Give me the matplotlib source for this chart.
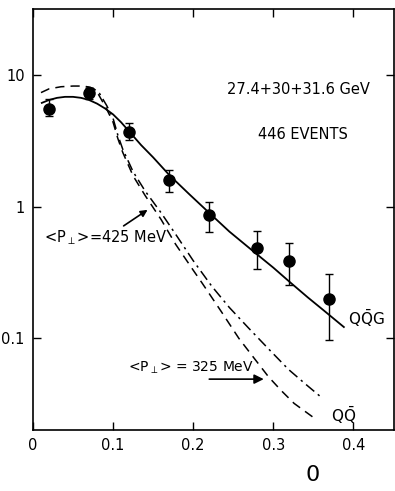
import numpy as np
import matplotlib
matplotlib.use("Agg")
import matplotlib.pyplot as plt

# Data points (filled circles with error bars)
pt_x = [0.02, 0.07, 0.12, 0.17, 0.22, 0.28, 0.32, 0.37]
pt_y = [5.6, 7.35, 3.7, 1.6, 0.87, 0.49, 0.39, 0.20]
pt_hi = [6.6, 8.0, 4.35, 1.9, 1.09, 0.66, 0.53, 0.31]
pt_lo = [4.9, 6.6, 3.2, 1.3, 0.65, 0.34, 0.255, 0.098]

# QQG curve (solid)
qqg_x = [0.011, 0.020, 0.030, 0.040, 0.050, 0.060, 0.070, 0.080, 0.090, 0.100,
         0.110, 0.120, 0.135, 0.150, 0.170, 0.195, 0.220, 0.245, 0.273, 0.300,
         0.320, 0.343, 0.363, 0.388]
qqg_y = [6.18, 6.50, 6.75, 6.87, 6.87, 6.75, 6.50, 6.10, 5.60, 5.05,
         4.40, 3.75, 2.95, 2.38, 1.75, 1.25, 0.90, 0.65, 0.47, 0.345,
         0.27, 0.205, 0.163, 0.122]

# QQbar, <P_perp> = 325 MeV (dashed)
d325_x = [0.010, 0.020, 0.035, 0.050, 0.063, 0.072, 0.081, 0.091, 0.100, 0.106,
          0.112, 0.125, 0.140, 0.160, 0.178, 0.200, 0.211, 0.235, 0.257, 0.275,
          0.294, 0.310, 0.326, 0.349]
d325_y = [7.4, 7.9, 8.2, 8.3, 8.3, 8.1, 7.3, 5.7, 4.4, 3.3,
          2.6, 1.72, 1.22, 0.80, 0.52, 0.33, 0.264, 0.16, 0.10, 0.072,
          0.051, 0.040, 0.032, 0.0253]

# QQbar, <P_perp> = 425 MeV (dash-dot)
d425_x = [0.066, 0.075, 0.083, 0.092, 0.100, 0.106, 0.112, 0.125, 0.140, 0.160,
          0.178, 0.200, 0.223, 0.245, 0.269, 0.295, 0.319, 0.340, 0.359]
d425_y = [8.2, 8.0, 7.3, 5.9, 4.7, 3.5, 2.75, 1.85, 1.32, 0.90,
          0.62, 0.39, 0.25, 0.172, 0.12, 0.082, 0.058, 0.045, 0.036]

x_ticks = [0, 0.1, 0.2, 0.3, 0.4]
x_tick_labels = ["0", "0.1", "0.2", "0.3", "0.4"]
y_ticks = [0.1, 1, 10]
y_tick_labels = ["0.1", "1", "10"]

fig = plt.figure(figsize=(3.95, 4.91), dpi=100)
ax = fig.add_axes([0.0835, 0.1242, 0.9140, 0.8575])
ax.set_yscale("log")
ax.set_xlim(0, 0.4506)
ax.set_ylim(0.0201, 32)

ax.plot(qqg_x, qqg_y, color="black", lw=1.3, solid_joinstyle="round")
ax.plot(d325_x, d325_y, color="black", lw=1.1, ls=(0, (6, 4)))
ax.plot(d425_x, d425_y, color="black", lw=1.1, ls=(0, (7, 3, 1.5, 3)))

yerr = [np.array(pt_y) - np.array(pt_lo), np.array(pt_hi) - np.array(pt_y)]
ax.errorbar(pt_x, pt_y, yerr=yerr, fmt="o", color="black", ms=8,
            elinewidth=1.0, capsize=3, capthick=1.0)

ax.set_xticks(x_ticks)
ax.set_xticklabels(x_tick_labels)
ax.set_yticks(y_ticks)
ax.set_yticklabels(y_tick_labels)
ax.minorticks_off()
ax.tick_params(direction="in", length=6, width=1, labelsize=10.5,
               top=True, right=True, pad=6)
for s in ax.spines.values():
    s.set_linewidth(1.2)

ax.text(0.331, 7.75, "27.4+30+31.6 GeV", ha="center", va="center", fontsize=10.5)
ax.text(0.337, 3.53, "446 EVENTS", ha="center", va="center", fontsize=10.5)

ax.annotate(r"<P$_{\perp}$>=425 MeV", xy=(0.143, 0.95), xytext=(0.0136, 0.58),
            ha="left", va="center", fontsize=10.5,
            arrowprops=dict(arrowstyle="-|>", color="black", lw=1.2,
                            shrinkA=0, shrinkB=0, mutation_scale=10))
ax.text(0.119, 0.0597, r"<P$_{\perp}$> = 325 MeV", ha="left", va="center",
        fontsize=10)
ax.annotate("", xy=(0.288, 0.049), xytext=(0.220, 0.049),
            arrowprops=dict(arrowstyle="-|>", color="black", lw=1.2,
                            shrinkA=0, shrinkB=0, mutation_scale=14))

ax.text(0.393, 0.143, r"Q$\bar{\mathrm{Q}}$G", ha="left", va="center", fontsize=11)
ax.text(0.372, 0.026, r"Q$\bar{\mathrm{Q}}$", ha="left", va="center", fontsize=11)

fig.text(313 / 395, 1 - 475 / 491, "0", ha="center", va="center", fontsize=16)

fig.savefig("out.png", dpi=100, facecolor="white")
